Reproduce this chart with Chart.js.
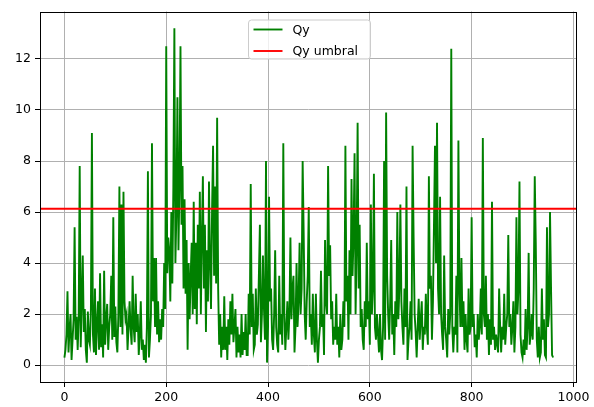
<!DOCTYPE html>
<html>
<head>
<meta charset="utf-8">
<script src="https://cdn.jsdelivr.net/npm/chart.js@4.4.1/dist/chart.umd.min.js"></script>
<style>
html, body { margin: 0; padding: 0; background: #fff; }
canvas { display: block; }
</style>
</head>
<body>
<canvas id="myChart" width="594" height="407"></canvas>
<script>
// datos (una muestra cada 2 indices)
const step = 2;
const qy = [
    0.3, 0.6, 1.2, 2.9, 0.5, 1.4, 2.0, 0.2, 1.0, 1.8, 5.4, 1.0, 1.9, 0.6, 1.8,
    7.8, 0.7, 2.5, 4.3, 1.3, 2.2, 0.6, 0.1, 2.1, 1.0, 0.8, 2.2, 9.1, 1.2, 0.5,
    3.0, 0.4, 1.6, 2.5, 0.6, 3.6, 0.7, 1.6, 0.3, 3.7, 0.8, 1.8, 2.4, 0.6, 1.5,
    2.0, 3.5, 1.0, 5.8, 1.1, 2.3, 0.9, 0.5, 2.0, 7.0, 1.5, 6.3, 1.2, 6.8, 2.5,
    1.8, 2.0, 0.6, 1.5, 2.5, 1.4, 0.8, 3.5, 1.5, 0.9, 2.8, 1.3, 2.0, 0.4, 1.2,
    2.5, 0.6, 1.0, 0.2, 0.8, 0.1, 1.5, 7.6, 0.3, 1.0, 2.0, 8.7, 2.5, 4.2, 1.5,
    4.2, 1.2, 2.5, 0.9, 1.8, 1.0, 2.2, 1.5, 4.0, 2.2, 12.5, 3.6, 5.0, 4.5, 2.5,
    6.0, 3.2, 7.0, 13.2, 4.0, 6.0, 10.5, 4.5, 7.0, 12.5, 5.5, 7.8, 3.0, 6.5, 2.8,
    4.9, 0.6, 4.0, 1.8, 3.5, 4.8, 2.0, 6.4, 2.2, 4.8, 1.6, 5.5, 3.0, 6.8, 2.0,
    5.0, 7.4, 3.0, 5.5, 1.3, 4.5, 2.5, 7.2, 4.0, 2.2, 6.0, 8.6, 3.5, 7.0, 3.2,
    9.7, 3.0, 0.8, 2.0, 0.3, 1.5, 0.6, 2.7, 0.6, 1.5, 0.2, 1.8, 0.8, 2.5, 1.2,
    2.8, 0.9, 1.5, 2.2, 0.3, 1.5, 0.5, 1.2, 0.3, 2.0, 0.4, 1.3, 0.6, 2.0, 0.4,
    0.4, 2.8, 1.2, 7.1, 1.5, 2.8, 0.6, 0.8, 3.0, 1.2, 1.6, 3.5, 5.5, 0.9, 2.0,
    4.3, 2.2, 1.0, 8.0, 0.1, 1.5, 6.6, 2.5, 3.0, 1.0, 0.6, 2.0, 4.5, 1.5, 0.8,
    0.5, 3.5, 1.2, 2.0, 0.8, 8.7, 2.0, 0.6, 1.5, 2.5, 1.0, 2.0, 5.0, 1.8, 3.0,
    3.5, 0.5, 1.5, 4.0, 1.5, 2.5, 4.8, 2.0, 3.0, 8.0, 5.2, 2.0, 1.0, 2.5, 3.5,
    6.2, 1.5, 2.0, 0.8, 2.8, 1.2, 0.5, 2.8, 1.0, 0.1, 1.0, 1.5, 3.7, 1.5, 2.0,
    0.4, 4.9, 2.5, 2.0, 7.8, 3.5, 4.7, 1.8, 2.5, 0.8, 1.5, 1.0, 2.8, 0.8, 1.5,
    0.3, 2.0, 0.6, 1.0, 2.5, 1.5, 8.6, 2.5, 3.5, 1.0, 4.5, 2.0, 7.3, 3.5, 5.0,
    8.3, 2.0, 4.5, 9.5, 3.0, 5.5, 1.5, 2.2, 1.0, 0.6, 2.5, 1.5, 4.8, 1.8, 2.5,
    0.8, 6.3, 2.0, 3.0, 7.5, 1.5, 1.0, 2.0, 1.2, 0.5, 2.0, 0.6, 0.2, 1.5, 8.0,
    1.0, 9.9, 3.5, 2.0, 1.0, 2.5, 4.9, 1.2, 2.0, 0.4, 2.5, 1.5, 6.0, 1.8, 3.0,
    6.3, 2.5, 1.5, 0.8, 3.0, 1.5, 7.0, 0.2, 1.0, 1.5, 2.5, 1.0, 8.6, 5.0, 2.0,
    1.3, 0.3, 1.5, 2.6, 1.0, 1.8, 2.5, 0.6, 1.5, 1.2, 2.8, 1.5, 0.8, 7.4, 3.0,
    3.5, 1.0, 2.5, 5.5, 8.6, 4.0, 9.5, 3.0, 2.0, 6.6, 2.0, 1.2, 0.6, 4.3, 1.5,
    1.0, 0.3, 2.2, 1.2, 2.0, 12.4, 1.5, 0.5, 1.5, 1.2, 3.5, 0.5, 8.8, 3.0, 1.5,
    4.2, 1.5, 2.5, 0.6, 2.0, 1.0, 0.5, 3.0, 1.2, 1.5, 5.8, 1.5, 2.0, 0.7, 1.2,
    0.3, 2.0, 1.0, 1.5, 3.0, 1.2, 8.9, 2.0, 1.5, 3.5, 1.0, 2.0, 0.4, 1.8, 0.8,
    6.4, 1.0, 1.5, 0.6, 1.2, 0.8, 0.5, 3.0, 1.5, 0.5, 1.5, 1.0, 2.8, 0.8, 1.5,
    2.0, 5.1, 1.5, 2.0, 0.8, 1.5, 2.5, 0.5, 1.5, 5.8, 2.0, 3.0, 7.2, 1.2, 0.5,
    0.3, 1.0, 0.4, 2.2, 0.6, 1.5, 4.4, 0.8, 1.2, 2.0, 1.0, 3.0, 7.4, 4.8, 1.0,
    0.3, 1.5, 0.3, 0.5, 3.0, 1.0, 1.8, 0.4, 0.3, 5.4, 1.5, 2.0, 6.0, 3.0, 0.4,
    0.3
];
const umbral = 6.13;
const xTicks = [0, 200, 400, 600, 800, 1000];
const yTicks = [0, 2, 4, 6, 8, 10, 12];
const xMin = -48, xMax = 1007;
const yMin = -0.66, yMax = 13.86;

const fuente = '12.5px "DejaVu Sans"';

// marco negro y leyenda (estilo matplotlib)
const marco = {
    id: 'marco',
    afterDraw(chart) {
        const a = chart.chartArea;
        const ctx = chart.ctx;
        ctx.save();
        ctx.strokeStyle = '#000';
        ctx.lineWidth = 1;
        ctx.strokeRect(Math.round(a.left) + 0.5, Math.round(a.top) + 0.5,
            Math.round(a.right - a.left) - 1, Math.round(a.bottom - a.top) - 1);

        const w = 122, h = 39;
        const x0 = Math.round((a.left + a.right) / 2 - w / 2) + 0.5;
        const y0 = a.top + 8.5;
        ctx.fillStyle = 'rgba(255,255,255,0.8)';
        ctx.strokeStyle = '#cccccc';
        ctx.beginPath();
        ctx.roundRect(x0, y0, w, h, 3);
        ctx.fill();
        ctx.stroke();
        ctx.font = fuente;
        ctx.textBaseline = 'middle';
        ctx.textAlign = 'left';
        chart.data.datasets.forEach(function(ds, i) {
            const yy = y0 + 9.5 + i * 21.5;
            ctx.strokeStyle = ds.borderColor;
            ctx.lineWidth = 1.9;
            ctx.beginPath();
            ctx.moveTo(x0 + 5, yy);
            ctx.lineTo(x0 + 34, yy);
            ctx.stroke();
            ctx.fillStyle = '#000';
            ctx.fillText(ds.label, x0 + 44, yy + 1);
        });
        ctx.restore();
    }
};

new Chart(
    document.getElementById('myChart').getContext('2d'), {
        type: 'line',
        data: {
            datasets: [{
                label: 'Qy',
                data: qy.map(function(v, i) { return { x: i * step, y: v }; }),
                borderColor: 'green',
                borderWidth: 1.9,
                pointRadius: 0,
                tension: 0,
                order: 1
            }, {
                label: 'Qy umbral',
                data: [{ x: xMin, y: umbral }, { x: xMax, y: umbral }],
                borderColor: 'red',
                borderWidth: 1.9,
                pointRadius: 0,
                order: 0
            }]
        },
        options: {
            responsive: false,
            animation: false,
            devicePixelRatio: 1,
            layout: {
                padding: { left: 0, top: 8, right: 17, bottom: 0 }
            },
            plugins: {
                legend: { display: false },
                tooltip: { enabled: false }
            },
            scales: {
                x: {
                    type: 'linear',
                    min: xMin,
                    max: xMax,
                    afterFit: function(s) { s.height = 25; },
                    afterBuildTicks: function(s) { s.ticks = xTicks.map(function(v) { return { value: v }; }); },
                    border: { display: false },
                    grid: { color: '#b0b0b0', lineWidth: 1, tickColor: '#000', tickLength: 5 },
                    ticks: {
                        color: '#000', font: { family: 'DejaVu Sans', size: 12.5 }, padding: 3, maxRotation: 0,
                        callback: function(v) { return String(v); }
                    }
                },
                y: {
                    type: 'linear',
                    min: yMin,
                    max: yMax,
                    afterFit: function(s) { s.width = 40; },
                    afterBuildTicks: function(s) { s.ticks = yTicks.map(function(v) { return { value: v }; }); },
                    border: { display: false },
                    grid: { color: '#b0b0b0', lineWidth: 1, tickColor: '#000', tickLength: 5 },
                    ticks: {
                        color: '#000', font: { family: 'DejaVu Sans', size: 12.5 }, padding: 4,
                        callback: function(v) { return String(v); }
                    }
                }
            }
        },
        plugins: [marco]
    }
);
</script>
</body>
</html>
